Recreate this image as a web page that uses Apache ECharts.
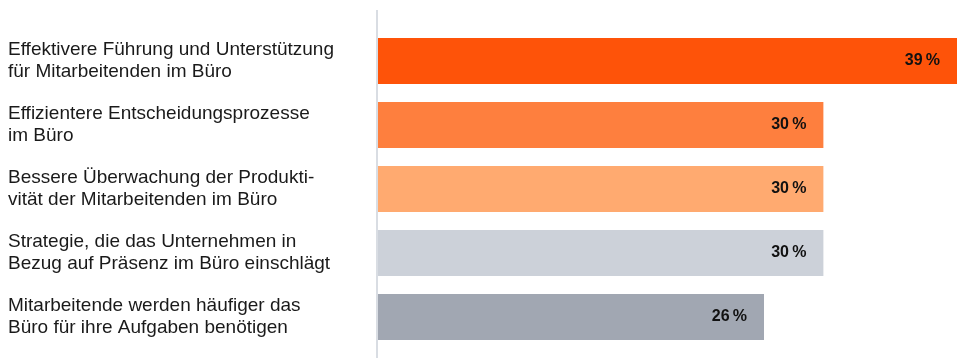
<!DOCTYPE html>
<html lang="de">

<head>
    <meta charset="UTF-8">
    <title>Büro</title>
    <style>
        html, body { margin: 0; padding: 0; background: #fff; }
        .chart { width: 957px; height: 358px; }
    </style>
</head>

<body>
    <div class="chart"></div>
    <script src="https://cdn.jsdelivr.net/npm/echarts@6/dist/echarts.min.js"></script>
    <script>
        var categories = [
            'Effektivere Führung und Unterstützung\nfür Mitarbeitenden im Büro',
            'Effizientere Entscheidungsprozesse\nim Büro',
            'Bessere Überwachung der Produkti-\nvität der Mitarbeitenden im Büro',
            'Strategie, die das Unternehmen in\nBezug auf Präsenz im Büro einschlägt',
            'Mitarbeitende werden häufiger das\nBüro für ihre Aufgaben benötigen'
        ]
        var values = [39, 30, 30, 30, 26]
        var barColors = ['#fe5309', '#fe7f3e', '#ffaa70', '#ccd1d9', '#a1a7b2']

        var font = '"Liberation Sans", Arial, sans-serif'
        var myChart = echarts.init(document.getElementsByClassName('chart')[0])

        var option = {
            animation: false,
            grid: { left: 378, right: 0, top: 29, bottom: 9 },
            xAxis: {
                type: 'value',
                min: 0,
                max: 39,
                show: false
            },
            yAxis: {
                type: 'category',
                inverse: true,
                data: categories,
                axisLine: { show: false },
                axisTick: { show: false },
                axisLabel: {
                    align: 'left',
                    margin: 370,
                    color: '#1a1a1a',
                    fontSize: 19,
                    lineHeight: 22,
                    fontFamily: font
                }
            },
            // grauer Trennstrich links von den Balken
            graphic: [{
                type: 'line',
                shape: { x1: 377, y1: 10, x2: 377, y2: 358 },
                style: { stroke: '#d9dde3', lineWidth: 2 },
                z: 10
            }],
            series: [{
                type: 'bar',
                data: values,
                barWidth: 46,
                itemStyle: {
                    color: function (params) {
                        return barColors[params.dataIndex]
                    }
                },
                label: {
                    show: true,
                    position: 'insideRight',
                    distance: 17,
                    formatter: '{c}\u2009%',
                    color: '#111',
                    fontSize: 16,
                    fontWeight: 'bold',
                    fontFamily: font
                }
            }]
        }
        myChart.setOption(option)
    </script>
</body>

</html>
